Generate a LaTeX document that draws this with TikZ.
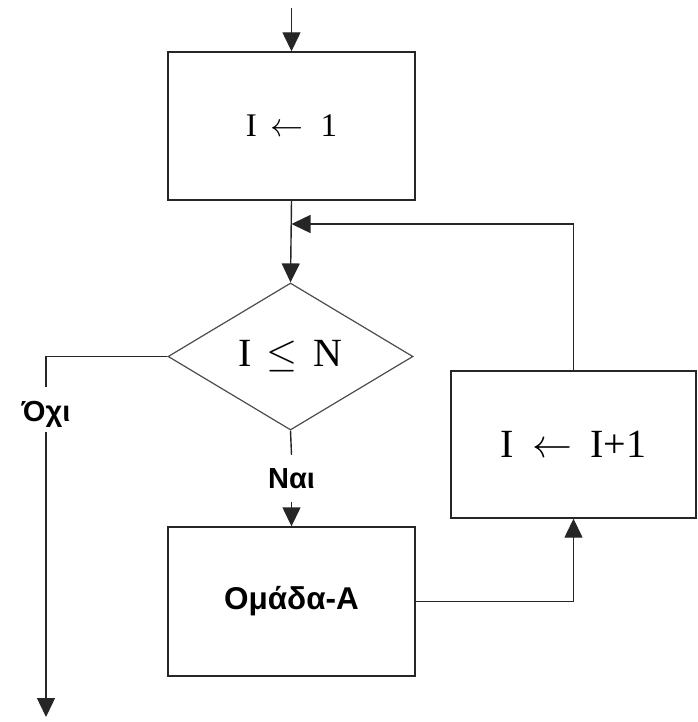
\RequirePackage{fix-cm}
\documentclass[tikz,border=0pt]{standalone}
\usepackage{fontspec}
\setmainfont{Liberation Sans}
\newfontfamily\serf{Liberation Serif}
\usetikzlibrary{shapes.geometric,arrows.meta}
\begin{document}
\begin{tikzpicture}[x=1pt,y=-1pt,
  ln/.style={line width=1.4pt,draw=black!85},
  arr/.style={ln,-{Triangle[width=18pt,length=19pt]}},
  procbox/.style={ln,rectangle,inner sep=0pt,fill=white},
  decis/.style={diamond,line width=1.2pt,draw=black!70,inner sep=0pt,minimum width=245pt,minimum height=147pt},
  mtxt/.style={font=\serf\fontsize{33}{36}\selectfont},
  btxt/.style={font=\serf\fontsize{40}{44}\selectfont},
  lbl/.style={font=\bfseries\fontsize{29}{32}\selectfont,inner sep=0pt,anchor=base}
]
\useasboundingbox (0,0) rectangle (697,722);
\node[procbox,minimum width=247pt,minimum height=148pt,mtxt] (b1) at (291.5,126) {I\hspace{14pt}$\leftarrow$\hspace{17pt}1};
\node[decis,btxt] (d) at (290.5,356.5) {I\hspace{14pt}$\leq$\hspace{16pt}N};
\node[procbox,minimum width=247pt,minimum height=149pt,font=\bfseries\fontsize{31.5}{34}\selectfont] (b2) at (291.5,601.5) {Ομάδα-Α};
\node[procbox,minimum width=245pt,minimum height=147pt,btxt] (r) at (573.5,444.5) {I\hspace{18pt}$\leftarrow$\hspace{18pt}I+1};
\node[lbl,text height=34pt,text depth=11pt] (oxi) at (46,421) {Όχι};
\node[lbl,text height=33pt,text depth=14pt] (nai) at (291.5,488) {Ναι};
\coordinate (top) at (291.5,8);
\coordinate (endL) at (46,717);
\coordinate (J) at (291.5,224);
\draw[arr] (top) -- (b1.north);
\draw[arr] (b1.south) -- (d.north);
\draw[arr] (r.north) |- (J);
\draw[ln] (d.west) -| (oxi.north);
\draw[arr] (oxi.south) -- (endL);
\draw[ln] (d.south) -- (nai.north);
\draw[arr] (nai.south) -- (b2.north);
\draw[arr] (b2.east) -| (r.south);
\end{tikzpicture}
\end{document}
